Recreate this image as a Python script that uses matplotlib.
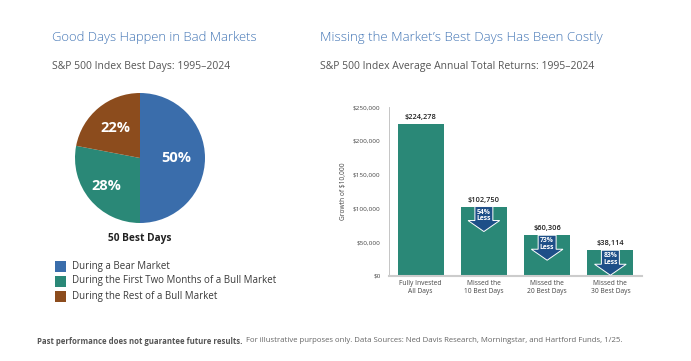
import numpy as np
import matplotlib.pyplot as plt
from matplotlib.patches import Polygon, Rectangle

plt.rcParams['font.family'] = ['Open Sans', 'DejaVu Sans']

# pie data
pie_labels = ['During a Bear Market', 'During the First Two Months of a Bull Market', 'During the Rest of a Bull Market']
pie_values = [50, 28, 22]
pie_colors = ['#3a6dab', '#2a8877', '#8c4c1d']
pie_text_dist = [0.55, 0.68, 0.6]

# bar data
bar_cats = ['Fully Invested\nAll Days', 'Missed the\n10 Best Days', 'Missed the\n20 Best Days', 'Missed the\n30 Best Days']
bar_values = [224278, 102750, 60306, 38114]
bar_less = [None, '54%', '73%', '83%']
bar_color = '#2a8877'
arrow_color = '#1e4f88'

W, H = 691, 361
fig = plt.figure(figsize=(W / 100, H / 100), dpi=100)

title_col = '#4275b5'
sub_col = '#555555'

def fx(x):
    return x / W

def fy(y):
    return 1 - y / H

fig.text(fx(52), fy(38), 'Good Days Happen in Bad Markets', fontsize=9.4, fontweight='light',
         color=title_col, va='center', ha='left')
fig.text(fx(52), fy(66), 'S&P 500 Index Best Days: 1995\u20132024', fontsize=7.5, color=sub_col, va='center', ha='left')
fig.text(fx(320), fy(38), 'Missing the Market\u2019s Best Days Has Been Costly', fontsize=9.5, fontweight='light',
         color=title_col, va='center', ha='left')
fig.text(fx(320), fy(66), 'S&P 500 Index Average Annual Total Returns: 1995\u20132024', fontsize=7.5,
         color=sub_col, va='center', ha='left')

# ---- pie
axp = fig.add_axes([fx(75), fy(223), 130 / W, 130 / H])
wedges, _ = axp.pie(pie_values, colors=pie_colors, startangle=90, counterclock=False,
                    wedgeprops=dict(linewidth=0))
for w, v, d in zip(wedges, pie_values, pie_text_dist):
    ang = np.deg2rad((w.theta1 + w.theta2) / 2)
    axp.text(d * np.cos(ang), d * np.sin(ang), f'{v}%', color='white', fontsize=10.5,
             fontweight='bold', ha='center', va='center')
axp.set_xlim(-1, 1)
axp.set_ylim(-1, 1)
axp.set_aspect('equal')
axp.axis('off')

fig.text(fx(140), fy(239), '50 Best Days', fontsize=7.3, fontweight='bold', color='#222222', ha='center', va='center')

for i, (lab, c) in enumerate(zip(pie_labels, pie_colors)):
    y = 266 + 15 * i
    fig.patches.append(Rectangle((fx(55), fy(y + 5.5)), 11 / W, 11 / H, transform=fig.transFigure,
                                 facecolor=c, edgecolor='none'))
    fig.text(fx(72), fy(y), lab, fontsize=7.0, color='#3a3a3a', ha='left', va='center')

# ---- bars
axb = fig.add_axes([fx(389), fy(276), (642 - 389) / W, 169 / H])
x = np.arange(len(bar_values))
axb.bar(x, bar_values, width=0.73, color=bar_color, zorder=2)
axb.set_xlim(-0.5, 3.5)
axb.set_ylim(0, 250000)
axb.set_yticks(np.arange(0, 250001, 50000))
axb.set_yticklabels(['$0'] + [f'${v:,}' for v in range(50000, 250001, 50000)])
axb.set_xticks(x)
axb.set_xticklabels(bar_cats)
axb.tick_params(axis='y', labelsize=4.6, labelcolor='#444444', length=0, pad=6)
axb.tick_params(axis='x', labelsize=4.8, labelcolor='#444444', length=0, pad=3)
for s in ['top', 'right']:
    axb.spines[s].set_visible(False)
axb.spines['left'].set_color('#bbbbbb')
axb.spines['left'].set_linewidth(0.6)
axb.spines['bottom'].set_color('#cccccc')
axb.spines['bottom'].set_linewidth(1.5)
axb.set_ylabel('Growth of $10,000', fontsize=4.8, color='#444444', labelpad=4)

px = 250000 / 169  # data units per pixel
for i, (v, less) in enumerate(zip(bar_values, bar_less)):
    axb.text(i, v + 3 * px, f'${v:,}', ha='center', va='bottom', fontsize=5.3,
             fontweight='semibold', color='#222222')
    if less is None:
        continue
    sw, hw = 0.142, 0.25
    top = v
    mid = v - 14 * px
    tip = v - 25 * px
    pts = [(i - sw, top), (i + sw, top), (i + sw, mid), (i + hw, mid),
           (i, tip), (i - hw, mid), (i - sw, mid)]
    axb.add_patch(Polygon(pts, closed=True, facecolor=arrow_color, edgecolor='white',
                          linewidth=0.7, zorder=3))
    axb.text(i, v - 9 * px, f'{less}\nLess', ha='center', va='center', fontsize=4.9,
             fontweight='bold', color='white', linespacing=0.95, zorder=4)

# ---- footer
t1 = fig.text(fx(37), fy(341), 'Past performance does not guarantee future results.', fontsize=5.6,
              fontweight='bold', color='#555555', ha='left', va='center')
fig.canvas.draw()
bb = t1.get_window_extent()
fig.text(bb.x1 / W + 3 / W, fy(341),
         'For illustrative purposes only. Data Sources: Ned Davis Research, Morningstar, and Hartford Funds, 1/25.',
         fontsize=5.6, color='#666666', ha='left', va='center')

fig.savefig('out.png', dpi=100)
